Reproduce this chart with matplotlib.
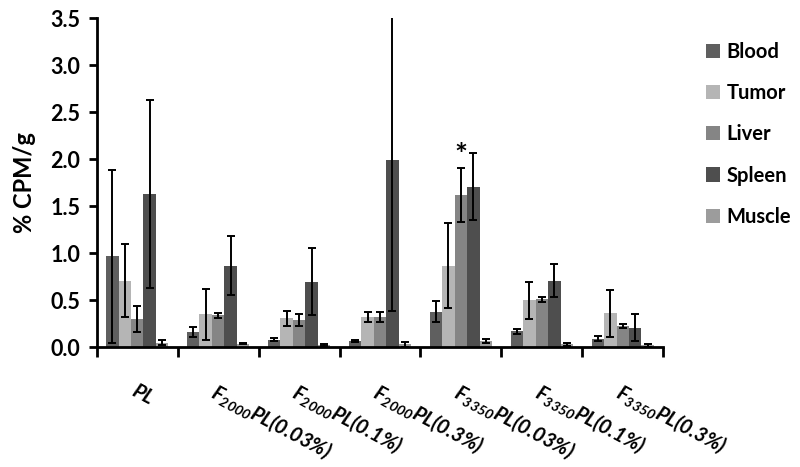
import numpy as np
import matplotlib
matplotlib.use('Agg')
import matplotlib.pyplot as plt

plt.rcParams['font.family'] = ['Lato', 'DejaVu Sans']
plt.rcParams['mathtext.fontset'] = 'custom'
plt.rcParams['mathtext.rm'] = 'Lato:italic:bold'
plt.rcParams['mathtext.it'] = 'Lato:italic:bold'
plt.rcParams['mathtext.bf'] = 'Lato:italic:bold'

### data
groups = ['PL',
          'F$_{2000}$PL(0.03%)',
          'F$_{2000}$PL(0.1%)',
          'F$_{2000}$PL(0.3%)',
          'F$_{3350}$PL(0.03%)',
          'F$_{3350}$PL(0.1%)',
          'F$_{3350}$PL(0.3%)']
tissues = ['Blood', 'Tumor', 'Liver', 'Spleen', 'Muscle']

blood = [0.97, 0.16, 0.08, 0.07, 0.38, 0.17, 0.09]
blood_err = [0.92, 0.055, 0.015, 0.01, 0.11, 0.03, 0.025]
tumor = [0.71, 0.35, 0.31, 0.32, 0.87, 0.50, 0.36]
tumor_err = [0.39, 0.27, 0.08, 0.055, 0.45, 0.195, 0.25]
liver = [0.30, 0.34, 0.29, 0.32, 1.62, 0.51, 0.23]
liver_err = [0.14, 0.03, 0.06, 0.055, 0.29, 0.03, 0.02]
spleen = [1.63, 0.87, 0.70, 1.99, 1.71, 0.71, 0.21]
spleen_err = [1.00, 0.31, 0.36, 1.60, 0.36, 0.18, 0.14]
muscle = [0.05, 0.04, 0.02, 0.03, 0.07, 0.03, 0.02]
muscle_err = [0.03, 0.01, 0.01, 0.03, 0.02, 0.015, 0.015]

values = [blood, tumor, liver, spleen, muscle]
errors = [blood_err, tumor_err, liver_err, spleen_err, muscle_err]
colours = ['#5f5f5f', '#b5b5b5', '#858585', '#4e4e4e', '#9c9c9c']

fig = plt.figure(figsize=(8, 4.67), dpi=100)
ax = fig.add_axes([0.121, 0.2563, 0.708, 0.7045])

x = np.arange(len(groups))
w = 1 / 6.5  # excel gap width 150%
for i in range(len(tissues)):
    ax.bar(x + (i - 2) * w, values[i], w, color=colours[i], label=tissues[i],
           yerr=errors[i], capsize=3,
           error_kw={'elinewidth': 1.4, 'capthick': 1.4, 'ecolor': 'black'})

# significance mark
ax.text(x[4], 2.03, '*', ha='center', va='center', fontsize=22, fontweight='bold')

ax.set_xlim(-0.5, len(groups) - 0.5)
ax.set_ylim(0, 3.5)
ax.set_yticks(np.arange(0, 3.51, 0.5))
ax.set_yticklabels(['%.1f' % v for v in np.arange(0, 3.51, 0.5)],
                   fontsize=15.5, fontweight='bold')
ax.set_ylabel('% CPM/g', fontsize=17, fontweight='bold', labelpad=10)

# group boundaries as ticks, names as minor ticks
ax.set_xticks(np.arange(-0.5, len(groups), 1.0))
ax.set_xticklabels([])
ax.set_xticks(x, minor=True)
ax.set_xticklabels(groups, minor=True, fontsize=14.5, fontweight='bold',
                   fontstyle='italic', rotation=-28, ha='left', va='top',
                   rotation_mode='anchor')
ax.tick_params(axis='x', which='minor', length=0, pad=24)
ax.tick_params(axis='x', which='major', direction='out', length=7, width=2)
ax.tick_params(axis='y', direction='out', length=6, width=2, pad=6)

for s in ['top', 'right']:
    ax.spines[s].set_visible(False)
for s in ['left', 'bottom']:
    ax.spines[s].set_linewidth(2)

leg = fig.legend(loc='upper left', bbox_to_anchor=(0.872, 0.927), frameon=False,
                 prop={'size': 14.5, 'weight': 'bold'}, labelspacing=1.05,
                 handlelength=0.7, handleheight=0.7, handletextpad=0.35,
                 borderaxespad=0)

fig.savefig('out.png', dpi=100)
